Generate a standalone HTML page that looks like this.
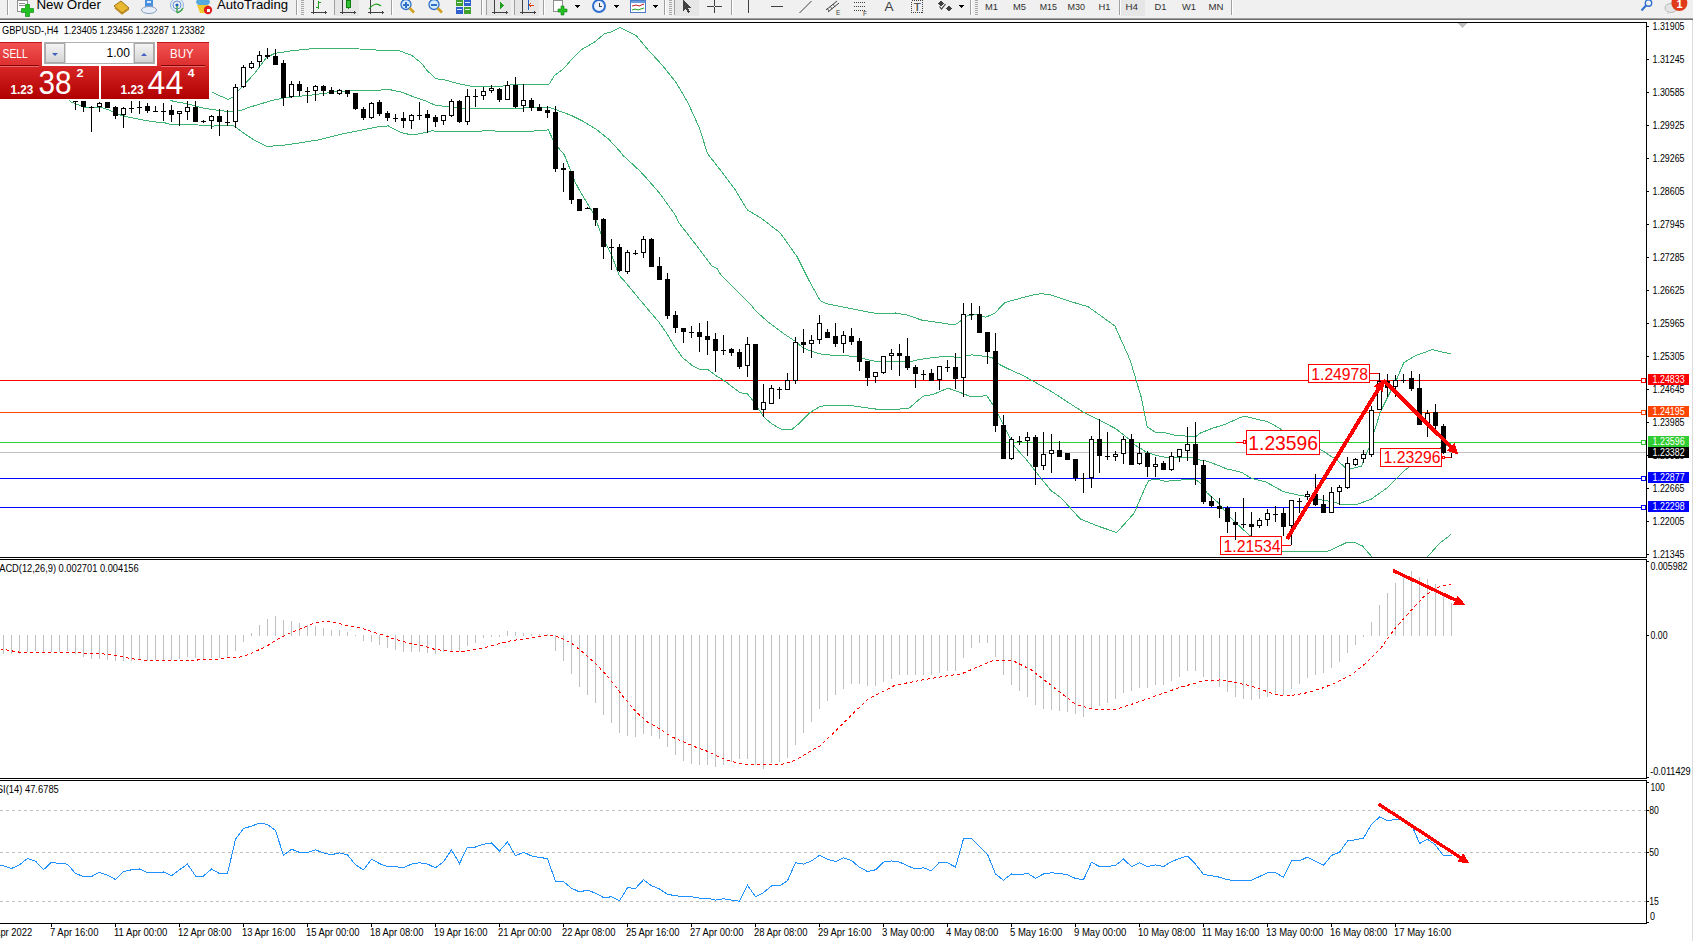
<!DOCTYPE html>
<html><head><meta charset="utf-8"><title>GBPUSD H4</title>
<style>
html,body{margin:0;padding:0;background:#fff;}
body{width:1693px;height:941px;position:relative;overflow:hidden;font-family:"Liberation Sans", sans-serif;}
</style></head><body>
<svg width="1693" height="941" style="position:absolute;left:0;top:0" shape-rendering="crispEdges"><defs><clipPath id="cMain"><rect x="0" y="23" width="1646" height="534"/></clipPath><clipPath id="cMacd"><rect x="0" y="560" width="1646" height="218"/></clipPath><clipPath id="cRsi"><rect x="0" y="781" width="1646" height="142"/></clipPath></defs><g clip-path="url(#cMain)"><rect x="0" y="380" width="1646" height="1" fill="#ff0000"/><rect x="0" y="412" width="1646" height="1" fill="#ff4500"/><rect x="0" y="442" width="1646" height="1" fill="#32cd32"/><rect x="0" y="452" width="1646" height="1" fill="#c0c0c0"/><rect x="0" y="478" width="1646" height="1" fill="#0000ff"/><rect x="0" y="507" width="1646" height="1" fill="#0000ff"/><polyline points="211.7,92.1 228.2,99.5 233.5,96.8 239.9,88.9 253.7,74.5 266.5,57.5 275.0,53.3 293.1,50.6 316.3,48.3 359.3,49.0 385.7,50.6 399.0,50.6 412.2,55.6 422.1,63.8 427.0,70.5 435.9,78.7 446.3,80.2 457.5,83.5 474.6,86.9 483.5,86.7 494.7,86.1 502.1,86.1 513.3,84.5 540.5,84.8 548.7,84.8 554.5,75.4 563.9,68.4 570.9,60.2 581.4,49.7 595.4,41.5 604.8,33.4 610.6,32.2 620.0,27.5 636.3,35.7 648.0,49.7 662.0,64.9 676.0,82.4 687.7,102.3 699.4,128.0 707.6,153.7 720.4,170.1 734.5,188.8 747.3,209.8 762.5,219.1 780.5,233.2 797.3,257.0 808.8,280.0 820.1,300.5 826.5,303.7 842.4,306.9 869.0,312.2 879.6,313.8 895.5,313.0 906.2,314.8 922.1,320.2 933.3,321.7 946.0,323.7 954.9,324.9 958.8,322.4 967.7,315.4 977.9,314.7 985.5,317.3 994.5,313.5 1004.7,302.6 1016.1,299.4 1030.2,295.6 1040.5,293.7 1049.8,294.5 1072.8,302.2 1088.1,306.7 1114.9,325.9 1130.2,360.3 1141.6,398.5 1147.2,426.8 1155.9,432.5 1166.4,433.0 1176.9,435.8 1196.0,436.3 1200.1,433.2 1212.3,428.3 1224.5,424.6 1243.9,416.0 1258.7,419.7 1265.9,421.1 1273.4,424.6 1283.2,430.7 1300.5,440.5 1319.9,449.1 1337.0,460.1 1345.5,467.9 1351.6,468.6 1361.4,466.2 1365.2,456.3 1369.9,445.8 1374.5,430.6 1380.4,411.9 1388.5,395.5 1396.7,379.2 1403.8,362.7 1415.5,355.7 1432.3,349.6 1444.5,352.5 1450.7,353.7" fill="none" stroke="#3cb371" stroke-width="1" shape-rendering="crispEdges"/><polyline points="170.5,100.5 176.1,101.9 186.8,103.7 202.7,108.0 216.5,110.1 231.4,111.9 239.9,110.7 250.5,106.9 261.2,103.7 271.8,100.5 285.5,97.5 309.7,95.3 339.4,91.3 365.9,90.3 390.5,89.8 401.7,92.1 412.8,96.5 424.0,100.3 435.1,105.1 442.6,106.1 449.3,106.2 457.5,108.1 464.9,108.1 472.3,108.8 510.5,108.8 519.6,108.1 542.6,107.5 549.0,107.2 556.6,110.0 570.6,115.1 583.4,121.5 596.1,129.2 608.9,139.4 620.5,152.1 623.1,155.5 639.7,170.8 647.3,179.1 660.1,193.8 675.5,215.4 678.8,222.6 700.3,250.5 711.8,265.8 717.0,268.5 720.7,274.7 743.7,297.7 751.3,305.3 755.3,310.5 768.1,322.0 783.4,333.5 794.9,341.1 802.5,347.5 811.4,351.3 820.5,353.9 831.8,355.2 855.1,356.3 863.6,358.7 874.3,361.1 904.0,361.1 911.5,361.3 916.8,360.0 930.5,357.9 946.0,356.2 958.8,357.5 971.5,354.9 984.3,356.2 991.9,357.5 999.6,364.5 1009.8,369.6 1022.5,375.3 1033.1,381.0 1052.4,392.1 1082.2,411.5 1099.4,420.1 1115.7,428.7 1129.1,439.2 1134.8,444.9 1147.2,452.6 1161.6,456.9 1171.2,457.4 1195.1,457.9 1200.1,460.1 1206.7,461.1 1217.2,465.0 1226.8,468.9 1241.6,472.3 1251.3,478.4 1266.1,482.1 1283.7,491.8 1301.5,495.7 1309.4,496.8 1317.4,499.2 1332.1,501.6 1341.9,504.6 1356.5,504.6 1371.2,499.2 1388.3,487.0 1405.4,469.9 1425.0,455.2 1442.3,447.0 1450.7,443.0" fill="none" stroke="#3cb371" stroke-width="1" shape-rendering="crispEdges"/><polyline points="69.0,100.0 70.5,101.8 86.5,107.9 103.0,107.9 113.5,111.8 120.5,115.0 131.5,117.8 152.5,121.7 165.5,123.0 171.9,125.0 182.5,124.5 194.2,124.5 202.7,125.5 213.3,126.1 224.0,125.0 234.5,126.1 242.0,131.9 253.7,139.9 266.7,146.5 286.5,144.9 317.9,140.0 340.0,134.4 357.0,131.0 378.2,126.8 388.4,125.9 392.7,128.5 401.7,132.6 411.3,134.9 420.3,133.7 432.2,130.8 442.6,131.9 457.5,131.9 470.8,131.7 483.5,130.9 504.3,131.1 519.6,131.7 543.9,130.5 548.3,129.8 552.8,139.4 559.2,148.9 564.3,154.7 569.4,167.4 574.6,181.0 579.6,190.5 593.8,214.2 601.4,234.6 611.6,255.0 619.3,275.5 623.9,280.5 640.5,300.5 653.2,315.5 658.3,321.3 665.9,332.1 673.6,344.9 682.5,357.6 692.7,365.9 700.3,369.7 707.5,369.2 715.8,375.5 726.0,381.9 732.4,387.0 740.0,392.7 747.7,394.0 754.1,402.3 764.3,417.6 771.9,424.0 782.1,429.7 792.3,429.1 800.0,422.7 810.2,412.5 820.5,406.1 847.1,405.1 877.7,409.3 908.3,408.9 917.9,400.5 923.2,396.2 933.3,394.4 947.9,388.1 958.8,391.9 971.5,397.0 986.8,395.7 994.4,407.0 1000.4,418.9 1007.8,433.8 1015.2,447.2 1027.1,460.5 1037.5,473.9 1050.9,490.5 1061.3,498.0 1080.4,519.1 1099.6,526.7 1116.8,532.5 1134.0,513.3 1139.6,500.5 1145.5,486.5 1149.2,480.3 1153.9,479.4 1159.7,479.9 1165.5,481.3 1182.5,479.9 1196.0,479.9 1201.8,484.2 1206.5,492.3 1217.8,502.4 1229.0,515.8 1240.2,526.9 1250.2,535.9 1265.5,545.5 1282.5,551.9 1325.5,551.9 1331.5,549.9 1347.5,542.0 1353.5,542.0 1362.5,546.0 1372.5,557.5 1380.5,575.5 1415.5,575.5 1427.5,556.7 1439.7,543.2 1450.7,534.7" fill="none" stroke="#3cb371" stroke-width="1" shape-rendering="crispEdges"/></g><rect x="1641.5" y="378.5" width="4" height="4" fill="#fff" stroke="#ff0000" stroke-width="1" shape-rendering="crispEdges"/><rect x="1641.5" y="410.5" width="4" height="4" fill="#fff" stroke="#ff4500" stroke-width="1" shape-rendering="crispEdges"/><rect x="1641.5" y="440.5" width="4" height="4" fill="#fff" stroke="#32cd32" stroke-width="1" shape-rendering="crispEdges"/><rect x="1641.5" y="476.5" width="4" height="4" fill="#fff" stroke="#0000ff" stroke-width="1" shape-rendering="crispEdges"/><rect x="1641.5" y="505.5" width="4" height="4" fill="#fff" stroke="#0000ff" stroke-width="1" shape-rendering="crispEdges"/><polygon points="1457.5,23 1467.5,23 1462.5,28.5" fill="#c0c0c0"/><g clip-path="url(#cMacd)"><rect x="3" y="635" width="1" height="19" fill="#c0c0c0"/><rect x="11" y="635" width="1" height="19" fill="#c0c0c0"/><rect x="19" y="635" width="1" height="19" fill="#c0c0c0"/><rect x="27" y="635" width="1" height="17" fill="#c0c0c0"/><rect x="35" y="635" width="1" height="16" fill="#c0c0c0"/><rect x="43" y="635" width="1" height="17" fill="#c0c0c0"/><rect x="51" y="635" width="1" height="17" fill="#c0c0c0"/><rect x="59" y="635" width="1" height="17" fill="#c0c0c0"/><rect x="67" y="635" width="1" height="16" fill="#c0c0c0"/><rect x="75" y="635" width="1" height="19" fill="#c0c0c0"/><rect x="83" y="635" width="1" height="22" fill="#c0c0c0"/><rect x="91" y="635" width="1" height="24" fill="#c0c0c0"/><rect x="99" y="635" width="1" height="24" fill="#c0c0c0"/><rect x="107" y="635" width="1" height="25" fill="#c0c0c0"/><rect x="115" y="635" width="1" height="26" fill="#c0c0c0"/><rect x="123" y="635" width="1" height="26" fill="#c0c0c0"/><rect x="131" y="635" width="1" height="26" fill="#c0c0c0"/><rect x="139" y="635" width="1" height="25" fill="#c0c0c0"/><rect x="147" y="635" width="1" height="26" fill="#c0c0c0"/><rect x="155" y="635" width="1" height="25" fill="#c0c0c0"/><rect x="163" y="635" width="1" height="25" fill="#c0c0c0"/><rect x="171" y="635" width="1" height="25" fill="#c0c0c0"/><rect x="179" y="635" width="1" height="24" fill="#c0c0c0"/><rect x="187" y="635" width="1" height="22" fill="#c0c0c0"/><rect x="195" y="635" width="1" height="23" fill="#c0c0c0"/><rect x="203" y="635" width="1" height="24" fill="#c0c0c0"/><rect x="211" y="635" width="1" height="23" fill="#c0c0c0"/><rect x="219" y="635" width="1" height="23" fill="#c0c0c0"/><rect x="227" y="635" width="1" height="23" fill="#c0c0c0"/><rect x="235" y="635" width="1" height="16" fill="#c0c0c0"/><rect x="243" y="635" width="1" height="7" fill="#c0c0c0"/><rect x="251" y="633" width="1" height="3" fill="#c0c0c0"/><rect x="259" y="625" width="1" height="11" fill="#c0c0c0"/><rect x="267" y="619" width="1" height="17" fill="#c0c0c0"/><rect x="275" y="616" width="1" height="20" fill="#c0c0c0"/><rect x="283" y="620" width="1" height="16" fill="#c0c0c0"/><rect x="291" y="621" width="1" height="15" fill="#c0c0c0"/><rect x="299" y="623" width="1" height="13" fill="#c0c0c0"/><rect x="307" y="625" width="1" height="11" fill="#c0c0c0"/><rect x="315" y="626" width="1" height="10" fill="#c0c0c0"/><rect x="323" y="628" width="1" height="8" fill="#c0c0c0"/><rect x="331" y="630" width="1" height="6" fill="#c0c0c0"/><rect x="339" y="630" width="1" height="6" fill="#c0c0c0"/><rect x="347" y="632" width="1" height="4" fill="#c0c0c0"/><rect x="355" y="635" width="1" height="1" fill="#c0c0c0"/><rect x="363" y="635" width="1" height="6" fill="#c0c0c0"/><rect x="371" y="635" width="1" height="7" fill="#c0c0c0"/><rect x="379" y="635" width="1" height="10" fill="#c0c0c0"/><rect x="387" y="635" width="1" height="13" fill="#c0c0c0"/><rect x="395" y="635" width="1" height="15" fill="#c0c0c0"/><rect x="403" y="635" width="1" height="17" fill="#c0c0c0"/><rect x="411" y="635" width="1" height="17" fill="#c0c0c0"/><rect x="419" y="635" width="1" height="17" fill="#c0c0c0"/><rect x="427" y="635" width="1" height="18" fill="#c0c0c0"/><rect x="435" y="635" width="1" height="19" fill="#c0c0c0"/><rect x="443" y="635" width="1" height="17" fill="#c0c0c0"/><rect x="451" y="635" width="1" height="16" fill="#c0c0c0"/><rect x="459" y="635" width="1" height="16" fill="#c0c0c0"/><rect x="467" y="635" width="1" height="11" fill="#c0c0c0"/><rect x="475" y="635" width="1" height="8" fill="#c0c0c0"/><rect x="483" y="635" width="1" height="3" fill="#c0c0c0"/><rect x="491" y="635" width="1" height="2" fill="#c0c0c0"/><rect x="499" y="635" width="1" height="2" fill="#c0c0c0"/><rect x="507" y="631" width="1" height="5" fill="#c0c0c0"/><rect x="515" y="632" width="1" height="4" fill="#c0c0c0"/><rect x="523" y="633" width="1" height="3" fill="#c0c0c0"/><rect x="531" y="634" width="1" height="2" fill="#c0c0c0"/><rect x="539" y="634" width="1" height="2" fill="#c0c0c0"/><rect x="547" y="634" width="1" height="2" fill="#c0c0c0"/><rect x="555" y="635" width="1" height="16" fill="#c0c0c0"/><rect x="563" y="635" width="1" height="26" fill="#c0c0c0"/><rect x="571" y="635" width="1" height="39" fill="#c0c0c0"/><rect x="579" y="635" width="1" height="52" fill="#c0c0c0"/><rect x="587" y="635" width="1" height="60" fill="#c0c0c0"/><rect x="595" y="635" width="1" height="68" fill="#c0c0c0"/><rect x="603" y="635" width="1" height="80" fill="#c0c0c0"/><rect x="611" y="635" width="1" height="88" fill="#c0c0c0"/><rect x="619" y="635" width="1" height="98" fill="#c0c0c0"/><rect x="627" y="635" width="1" height="101" fill="#c0c0c0"/><rect x="635" y="635" width="1" height="102" fill="#c0c0c0"/><rect x="643" y="635" width="1" height="99" fill="#c0c0c0"/><rect x="651" y="635" width="1" height="101" fill="#c0c0c0"/><rect x="659" y="635" width="1" height="104" fill="#c0c0c0"/><rect x="667" y="635" width="1" height="112" fill="#c0c0c0"/><rect x="675" y="635" width="1" height="120" fill="#c0c0c0"/><rect x="683" y="635" width="1" height="126" fill="#c0c0c0"/><rect x="691" y="635" width="1" height="129" fill="#c0c0c0"/><rect x="699" y="635" width="1" height="130" fill="#c0c0c0"/><rect x="707" y="635" width="1" height="130" fill="#c0c0c0"/><rect x="715" y="635" width="1" height="132" fill="#c0c0c0"/><rect x="723" y="635" width="1" height="130" fill="#c0c0c0"/><rect x="731" y="635" width="1" height="127" fill="#c0c0c0"/><rect x="739" y="635" width="1" height="124" fill="#c0c0c0"/><rect x="747" y="635" width="1" height="124" fill="#c0c0c0"/><rect x="755" y="635" width="1" height="130" fill="#c0c0c0"/><rect x="763" y="635" width="1" height="134" fill="#c0c0c0"/><rect x="771" y="635" width="1" height="128" fill="#c0c0c0"/><rect x="779" y="635" width="1" height="127" fill="#c0c0c0"/><rect x="787" y="635" width="1" height="123" fill="#c0c0c0"/><rect x="795" y="635" width="1" height="110" fill="#c0c0c0"/><rect x="803" y="635" width="1" height="98" fill="#c0c0c0"/><rect x="811" y="635" width="1" height="87" fill="#c0c0c0"/><rect x="819" y="635" width="1" height="74" fill="#c0c0c0"/><rect x="827" y="635" width="1" height="66" fill="#c0c0c0"/><rect x="835" y="635" width="1" height="60" fill="#c0c0c0"/><rect x="843" y="635" width="1" height="54" fill="#c0c0c0"/><rect x="851" y="635" width="1" height="49" fill="#c0c0c0"/><rect x="859" y="635" width="1" height="49" fill="#c0c0c0"/><rect x="867" y="635" width="1" height="51" fill="#c0c0c0"/><rect x="875" y="635" width="1" height="51" fill="#c0c0c0"/><rect x="883" y="635" width="1" height="47" fill="#c0c0c0"/><rect x="891" y="635" width="1" height="44" fill="#c0c0c0"/><rect x="899" y="635" width="1" height="40" fill="#c0c0c0"/><rect x="907" y="635" width="1" height="40" fill="#c0c0c0"/><rect x="915" y="635" width="1" height="40" fill="#c0c0c0"/><rect x="923" y="635" width="1" height="40" fill="#c0c0c0"/><rect x="931" y="635" width="1" height="40" fill="#c0c0c0"/><rect x="939" y="635" width="1" height="38" fill="#c0c0c0"/><rect x="947" y="635" width="1" height="36" fill="#c0c0c0"/><rect x="955" y="635" width="1" height="36" fill="#c0c0c0"/><rect x="963" y="635" width="1" height="23" fill="#c0c0c0"/><rect x="971" y="635" width="1" height="13" fill="#c0c0c0"/><rect x="979" y="635" width="1" height="8" fill="#c0c0c0"/><rect x="987" y="635" width="1" height="8" fill="#c0c0c0"/><rect x="995" y="635" width="1" height="22" fill="#c0c0c0"/><rect x="1003" y="635" width="1" height="40" fill="#c0c0c0"/><rect x="1011" y="635" width="1" height="50" fill="#c0c0c0"/><rect x="1019" y="635" width="1" height="56" fill="#c0c0c0"/><rect x="1027" y="635" width="1" height="62" fill="#c0c0c0"/><rect x="1035" y="635" width="1" height="70" fill="#c0c0c0"/><rect x="1043" y="635" width="1" height="74" fill="#c0c0c0"/><rect x="1051" y="635" width="1" height="75" fill="#c0c0c0"/><rect x="1059" y="635" width="1" height="76" fill="#c0c0c0"/><rect x="1067" y="635" width="1" height="77" fill="#c0c0c0"/><rect x="1075" y="635" width="1" height="79" fill="#c0c0c0"/><rect x="1083" y="635" width="1" height="82" fill="#c0c0c0"/><rect x="1091" y="635" width="1" height="74" fill="#c0c0c0"/><rect x="1099" y="635" width="1" height="71" fill="#c0c0c0"/><rect x="1107" y="635" width="1" height="68" fill="#c0c0c0"/><rect x="1115" y="635" width="1" height="64" fill="#c0c0c0"/><rect x="1123" y="635" width="1" height="58" fill="#c0c0c0"/><rect x="1131" y="635" width="1" height="56" fill="#c0c0c0"/><rect x="1139" y="635" width="1" height="53" fill="#c0c0c0"/><rect x="1147" y="635" width="1" height="53" fill="#c0c0c0"/><rect x="1155" y="635" width="1" height="50" fill="#c0c0c0"/><rect x="1163" y="635" width="1" height="50" fill="#c0c0c0"/><rect x="1171" y="635" width="1" height="46" fill="#c0c0c0"/><rect x="1179" y="635" width="1" height="42" fill="#c0c0c0"/><rect x="1187" y="635" width="1" height="36" fill="#c0c0c0"/><rect x="1195" y="635" width="1" height="36" fill="#c0c0c0"/><rect x="1203" y="635" width="1" height="42" fill="#c0c0c0"/><rect x="1211" y="635" width="1" height="47" fill="#c0c0c0"/><rect x="1219" y="635" width="1" height="52" fill="#c0c0c0"/><rect x="1227" y="635" width="1" height="57" fill="#c0c0c0"/><rect x="1235" y="635" width="1" height="62" fill="#c0c0c0"/><rect x="1243" y="635" width="1" height="64" fill="#c0c0c0"/><rect x="1251" y="635" width="1" height="65" fill="#c0c0c0"/><rect x="1259" y="635" width="1" height="64" fill="#c0c0c0"/><rect x="1267" y="635" width="1" height="62" fill="#c0c0c0"/><rect x="1275" y="635" width="1" height="60" fill="#c0c0c0"/><rect x="1283" y="635" width="1" height="60" fill="#c0c0c0"/><rect x="1291" y="635" width="1" height="54" fill="#c0c0c0"/><rect x="1299" y="635" width="1" height="49" fill="#c0c0c0"/><rect x="1307" y="635" width="1" height="43" fill="#c0c0c0"/><rect x="1315" y="635" width="1" height="40" fill="#c0c0c0"/><rect x="1323" y="635" width="1" height="38" fill="#c0c0c0"/><rect x="1331" y="635" width="1" height="33" fill="#c0c0c0"/><rect x="1339" y="635" width="1" height="27" fill="#c0c0c0"/><rect x="1347" y="635" width="1" height="18" fill="#c0c0c0"/><rect x="1355" y="635" width="1" height="10" fill="#c0c0c0"/><rect x="1363" y="635" width="1" height="2" fill="#c0c0c0"/><rect x="1371" y="622" width="1" height="14" fill="#c0c0c0"/><rect x="1379" y="605" width="1" height="31" fill="#c0c0c0"/><rect x="1387" y="593" width="1" height="43" fill="#c0c0c0"/><rect x="1395" y="583" width="1" height="53" fill="#c0c0c0"/><rect x="1403" y="577" width="1" height="59" fill="#c0c0c0"/><rect x="1411" y="571" width="1" height="65" fill="#c0c0c0"/><rect x="1419" y="577" width="1" height="59" fill="#c0c0c0"/><rect x="1427" y="579" width="1" height="57" fill="#c0c0c0"/><rect x="1435" y="584" width="1" height="52" fill="#c0c0c0"/><rect x="1443" y="595" width="1" height="41" fill="#c0c0c0"/><rect x="1451" y="603" width="1" height="33" fill="#c0c0c0"/><polyline points="0.5,648.9 6.5,649.9 12.5,651.0 18.5,652.0 24.5,653.0 60.5,652.8 80.5,652.9 90.5,653.9 103.5,653.9 110.5,654.9 117.5,655.7 123.5,656.8 128.5,658.1 133.5,659.0 140.5,660.0 155.5,660.9 180.5,660.9 190.5,660.0 197.5,660.0 200.5,659.0 220.5,659.0 225.5,657.9 240.5,657.0 247.5,654.9 253.5,652.3 259.5,649.5 265.5,646.8 270.5,643.9 276.5,639.8 283.5,636.4 289.5,633.3 296.5,630.2 302.5,628.0 309.5,624.8 315.5,623.1 322.5,621.9 330.5,621.9 335.5,622.8 341.5,624.1 347.5,625.5 353.5,626.5 360.5,628.1 367.5,630.1 373.5,632.1 380.5,634.3 386.5,636.2 392.5,638.4 399.5,640.4 405.5,642.2 412.5,644.0 419.5,644.9 435.5,649.6 460.1,652.1 484.9,647.6 509.7,641.0 534.5,637.2 549.5,635.2 559.3,637.2 571.8,643.4 584.2,653.3 596.5,664.5 609.0,677.9 621.4,694.5 633.8,709.5 646.2,721.3 658.5,728.1 671.0,736.5 683.4,741.8 695.8,747.1 708.2,751.6 720.6,758.0 733.0,761.8 745.4,764.2 757.8,764.7 782.6,764.2 795.0,760.5 807.4,752.8 820.5,745.6 845.3,721.3 867.6,699.2 894.9,685.3 919.7,680.4 944.5,676.2 961.9,673.7 979.3,666.2 994.2,660.0 1011.5,660.0 1031.4,670.0 1053.7,687.3 1076.0,704.7 1093.4,709.2 1115.7,709.2 1130.6,704.7 1155.4,696.0 1180.2,687.3 1205.0,680.4 1222.4,679.9 1233.5,682.1 1250.5,685.8 1265.5,691.0 1275.5,694.7 1290.5,695.7 1305.5,693.0 1320.5,688.8 1335.5,682.8 1350.5,675.4 1365.5,663.4 1380.5,648.5 1395.5,627.7 1410.5,611.1 1425.5,594.8 1440.5,586.3 1450.5,584.1" fill="none" stroke="#ff0000" stroke-width="1" stroke-dasharray="3 3" shape-rendering="crispEdges"/></g><g clip-path="url(#cRsi)"><line x1="0" y1="810.5" x2="1646" y2="810.5" stroke="#c0c0c0" stroke-width="1" stroke-dasharray="3 3" shape-rendering="crispEdges"/><line x1="0" y1="852.5" x2="1646" y2="852.5" stroke="#c0c0c0" stroke-width="1" stroke-dasharray="3 3" shape-rendering="crispEdges"/><line x1="0" y1="901.5" x2="1646" y2="901.5" stroke="#c0c0c0" stroke-width="1" stroke-dasharray="3 3" shape-rendering="crispEdges"/><polyline points="0.0,865.1 3.5,865.8 11.5,868.5 19.5,864.8 27.5,858.4 35.5,861.1 43.5,869.8 51.5,862.1 59.5,863.6 67.5,864.1 75.5,873.5 83.5,876.5 91.5,876.5 99.5,872.3 107.5,875.3 115.5,879.5 123.5,871.5 131.5,869.8 139.5,869.0 147.5,872.8 155.5,872.8 163.5,872.0 171.5,875.7 179.5,869.8 187.5,864.1 195.5,876.0 203.5,876.0 211.5,869.0 219.5,873.5 227.5,873.5 235.5,839.3 243.5,828.6 251.5,826.1 259.5,823.2 267.5,824.4 275.5,830.6 283.5,855.4 291.5,849.2 299.5,852.4 307.5,852.4 315.5,849.9 323.5,852.9 331.5,854.7 339.5,852.9 347.5,854.9 355.5,864.8 363.5,869.8 371.5,859.1 379.5,863.6 387.5,866.6 395.5,866.6 403.5,867.8 411.5,864.1 419.5,862.8 427.5,864.1 435.5,867.8 443.5,861.6 451.5,849.9 459.5,863.6 467.5,847.0 475.5,847.0 483.5,844.2 491.5,843.0 499.5,850.9 507.5,842.0 515.5,855.9 523.5,852.2 531.5,855.9 539.5,857.4 547.5,858.6 555.5,881.5 563.5,881.5 571.5,888.2 579.5,891.9 587.5,890.1 595.5,893.1 603.5,897.6 611.5,896.8 619.5,900.8 627.5,887.7 635.5,888.4 643.5,879.7 651.5,885.7 659.5,888.9 667.5,894.4 675.5,895.6 683.5,896.8 691.5,896.8 699.5,898.1 707.5,898.1 715.5,900.1 723.5,898.8 731.5,900.1 739.5,901.3 747.5,885.2 755.5,896.8 763.5,892.6 771.5,885.9 779.5,885.9 787.5,880.7 795.5,862.8 803.5,864.1 811.5,860.9 819.5,855.4 827.5,859.1 835.5,861.6 843.5,857.9 851.5,860.4 859.5,867.3 867.5,871.5 875.5,869.8 883.5,862.1 891.5,860.9 899.5,862.1 907.5,865.8 915.5,869.0 923.5,867.8 931.5,870.8 939.5,862.1 947.5,862.8 955.5,867.1 963.5,838.8 971.5,838.8 979.5,846.7 987.5,854.2 995.5,874.0 1003.5,880.2 1011.5,874.0 1019.5,874.8 1027.5,873.3 1035.5,878.2 1043.5,874.0 1051.5,872.8 1059.5,873.5 1067.5,874.8 1075.5,878.5 1083.5,879.7 1091.5,862.3 1099.5,866.6 1107.5,866.6 1115.5,865.3 1123.5,859.1 1131.5,866.6 1139.5,862.8 1147.5,866.6 1155.5,864.8 1163.5,866.6 1171.5,861.6 1179.5,858.4 1187.5,856.1 1195.5,864.1 1203.5,874.5 1211.5,875.7 1219.5,877.2 1227.5,879.7 1235.5,880.7 1243.5,880.2 1251.5,880.2 1259.5,876.5 1267.5,872.8 1275.5,872.8 1283.5,877.2 1291.5,860.9 1299.5,860.9 1307.5,857.1 1315.5,861.1 1323.5,865.3 1331.5,855.4 1339.5,852.2 1347.5,841.0 1355.5,839.8 1363.5,838.0 1371.5,824.4 1379.5,817.0 1387.5,820.7 1395.5,819.4 1403.5,819.4 1411.5,824.4 1419.5,843.5 1427.5,839.3 1435.5,845.0 1443.5,855.9 1451.5,855.9" fill="none" stroke="#1e90ff" stroke-width="1" shape-rendering="crispEdges"/></g><rect x="0" y="22" width="1647" height="1" fill="#000"/><rect x="1646" y="22" width="1" height="536" fill="#000"/><rect x="0" y="557" width="1647" height="1" fill="#000"/><rect x="0" y="559" width="1647" height="1" fill="#000"/><rect x="1646" y="559" width="1" height="220" fill="#000"/><rect x="0" y="778" width="1647" height="1" fill="#000"/><rect x="0" y="780" width="1647" height="1" fill="#000"/><rect x="1646" y="780" width="1" height="144" fill="#000"/><rect x="0" y="923" width="1647" height="1" fill="#000"/><rect x="1647" y="26" width="2" height="1" fill="#000"/><text x="1652.5" y="30" font-size="10" fill="#000" text-anchor="start" font-weight="normal" textLength="32" lengthAdjust="spacingAndGlyphs" style="font-family:"Liberation Sans", sans-serif;" xml:space="preserve">1.31905</text><rect x="1647" y="59" width="2" height="1" fill="#000"/><text x="1652.5" y="63" font-size="10" fill="#000" text-anchor="start" font-weight="normal" textLength="32" lengthAdjust="spacingAndGlyphs" style="font-family:"Liberation Sans", sans-serif;" xml:space="preserve">1.31245</text><rect x="1647" y="92" width="2" height="1" fill="#000"/><text x="1652.5" y="96" font-size="10" fill="#000" text-anchor="start" font-weight="normal" textLength="32" lengthAdjust="spacingAndGlyphs" style="font-family:"Liberation Sans", sans-serif;" xml:space="preserve">1.30585</text><rect x="1647" y="125" width="2" height="1" fill="#000"/><text x="1652.5" y="129" font-size="10" fill="#000" text-anchor="start" font-weight="normal" textLength="32" lengthAdjust="spacingAndGlyphs" style="font-family:"Liberation Sans", sans-serif;" xml:space="preserve">1.29925</text><rect x="1647" y="158" width="2" height="1" fill="#000"/><text x="1652.5" y="162" font-size="10" fill="#000" text-anchor="start" font-weight="normal" textLength="32" lengthAdjust="spacingAndGlyphs" style="font-family:"Liberation Sans", sans-serif;" xml:space="preserve">1.29265</text><rect x="1647" y="191" width="2" height="1" fill="#000"/><text x="1652.5" y="195" font-size="10" fill="#000" text-anchor="start" font-weight="normal" textLength="32" lengthAdjust="spacingAndGlyphs" style="font-family:"Liberation Sans", sans-serif;" xml:space="preserve">1.28605</text><rect x="1647" y="224" width="2" height="1" fill="#000"/><text x="1652.5" y="228" font-size="10" fill="#000" text-anchor="start" font-weight="normal" textLength="32" lengthAdjust="spacingAndGlyphs" style="font-family:"Liberation Sans", sans-serif;" xml:space="preserve">1.27945</text><rect x="1647" y="257" width="2" height="1" fill="#000"/><text x="1652.5" y="261" font-size="10" fill="#000" text-anchor="start" font-weight="normal" textLength="32" lengthAdjust="spacingAndGlyphs" style="font-family:"Liberation Sans", sans-serif;" xml:space="preserve">1.27285</text><rect x="1647" y="290" width="2" height="1" fill="#000"/><text x="1652.5" y="294" font-size="10" fill="#000" text-anchor="start" font-weight="normal" textLength="32" lengthAdjust="spacingAndGlyphs" style="font-family:"Liberation Sans", sans-serif;" xml:space="preserve">1.26625</text><rect x="1647" y="323" width="2" height="1" fill="#000"/><text x="1652.5" y="327" font-size="10" fill="#000" text-anchor="start" font-weight="normal" textLength="32" lengthAdjust="spacingAndGlyphs" style="font-family:"Liberation Sans", sans-serif;" xml:space="preserve">1.25965</text><rect x="1647" y="356" width="2" height="1" fill="#000"/><text x="1652.5" y="360" font-size="10" fill="#000" text-anchor="start" font-weight="normal" textLength="32" lengthAdjust="spacingAndGlyphs" style="font-family:"Liberation Sans", sans-serif;" xml:space="preserve">1.25305</text><rect x="1647" y="389" width="2" height="1" fill="#000"/><text x="1652.5" y="393" font-size="10" fill="#000" text-anchor="start" font-weight="normal" textLength="32" lengthAdjust="spacingAndGlyphs" style="font-family:"Liberation Sans", sans-serif;" xml:space="preserve">1.24645</text><rect x="1647" y="422" width="2" height="1" fill="#000"/><text x="1652.5" y="426" font-size="10" fill="#000" text-anchor="start" font-weight="normal" textLength="32" lengthAdjust="spacingAndGlyphs" style="font-family:"Liberation Sans", sans-serif;" xml:space="preserve">1.23985</text><rect x="1647" y="455" width="2" height="1" fill="#000"/><text x="1652.5" y="459" font-size="10" fill="#000" text-anchor="start" font-weight="normal" textLength="32" lengthAdjust="spacingAndGlyphs" style="font-family:"Liberation Sans", sans-serif;" xml:space="preserve">1.23325</text><rect x="1647" y="488" width="2" height="1" fill="#000"/><text x="1652.5" y="492" font-size="10" fill="#000" text-anchor="start" font-weight="normal" textLength="32" lengthAdjust="spacingAndGlyphs" style="font-family:"Liberation Sans", sans-serif;" xml:space="preserve">1.22665</text><rect x="1647" y="521" width="2" height="1" fill="#000"/><text x="1652.5" y="525" font-size="10" fill="#000" text-anchor="start" font-weight="normal" textLength="32" lengthAdjust="spacingAndGlyphs" style="font-family:"Liberation Sans", sans-serif;" xml:space="preserve">1.22005</text><rect x="1647" y="554" width="2" height="1" fill="#000"/><text x="1652.5" y="558" font-size="10" fill="#000" text-anchor="start" font-weight="normal" textLength="32" lengthAdjust="spacingAndGlyphs" style="font-family:"Liberation Sans", sans-serif;" xml:space="preserve">1.21345</text><rect x="1647" y="561" width="2" height="1" fill="#000"/><text x="1650.5" y="570" font-size="10" fill="#000" text-anchor="start" font-weight="normal" textLength="37" lengthAdjust="spacingAndGlyphs" style="font-family:"Liberation Sans", sans-serif;" xml:space="preserve">0.005982</text><rect x="1647" y="635" width="2" height="1" fill="#000"/><text x="1650.5" y="639" font-size="10" fill="#000" text-anchor="start" font-weight="normal" textLength="17" lengthAdjust="spacingAndGlyphs" style="font-family:"Liberation Sans", sans-serif;" xml:space="preserve">0.00</text><rect x="1647" y="777" width="2" height="1" fill="#000"/><text x="1650.2" y="775" font-size="10" fill="#000" text-anchor="start" font-weight="normal" textLength="40.5" lengthAdjust="spacingAndGlyphs" style="font-family:"Liberation Sans", sans-serif;" xml:space="preserve">-0.011429</text><rect x="1647" y="782" width="2" height="1" fill="#000"/><text x="1650.6" y="791" font-size="10" fill="#000" text-anchor="start" font-weight="normal" textLength="14.2" lengthAdjust="spacingAndGlyphs" style="font-family:"Liberation Sans", sans-serif;" xml:space="preserve">100</text><rect x="1647" y="810" width="2" height="1" fill="#000"/><text x="1649.3" y="814" font-size="10" fill="#000" text-anchor="start" font-weight="normal" textLength="9.6" lengthAdjust="spacingAndGlyphs" style="font-family:"Liberation Sans", sans-serif;" xml:space="preserve">80</text><rect x="1647" y="852" width="2" height="1" fill="#000"/><text x="1649.3" y="856" font-size="10" fill="#000" text-anchor="start" font-weight="normal" textLength="9.6" lengthAdjust="spacingAndGlyphs" style="font-family:"Liberation Sans", sans-serif;" xml:space="preserve">50</text><rect x="1647" y="901" width="2" height="1" fill="#000"/><text x="1649.3" y="905" font-size="10" fill="#000" text-anchor="start" font-weight="normal" textLength="9.6" lengthAdjust="spacingAndGlyphs" style="font-family:"Liberation Sans", sans-serif;" xml:space="preserve">15</text><rect x="1647" y="922" width="2" height="1" fill="#000"/><text x="1650" y="920" font-size="10" fill="#000" text-anchor="start" font-weight="normal" textLength="5" lengthAdjust="spacingAndGlyphs" style="font-family:"Liberation Sans", sans-serif;" xml:space="preserve">0</text><rect x="1648" y="374" width="41" height="11" fill="#ff0000"/><text x="1652.6" y="383" font-size="10" fill="#fff" text-anchor="start" font-weight="normal" textLength="32" lengthAdjust="spacingAndGlyphs" style="font-family:"Liberation Sans", sans-serif;" xml:space="preserve">1.24833</text><rect x="1648" y="406" width="41" height="11" fill="#ff4500"/><text x="1652.6" y="415" font-size="10" fill="#fff" text-anchor="start" font-weight="normal" textLength="32" lengthAdjust="spacingAndGlyphs" style="font-family:"Liberation Sans", sans-serif;" xml:space="preserve">1.24195</text><rect x="1648" y="436" width="41" height="11" fill="#32cd32"/><text x="1652.6" y="445" font-size="10" fill="#fff" text-anchor="start" font-weight="normal" textLength="32" lengthAdjust="spacingAndGlyphs" style="font-family:"Liberation Sans", sans-serif;" xml:space="preserve">1.23596</text><rect x="1648" y="447" width="41" height="11" fill="#000000"/><text x="1652.6" y="456" font-size="10" fill="#fff" text-anchor="start" font-weight="normal" textLength="32" lengthAdjust="spacingAndGlyphs" style="font-family:"Liberation Sans", sans-serif;" xml:space="preserve">1.23382</text><rect x="1648" y="472" width="41" height="11" fill="#0000ff"/><text x="1652.6" y="481" font-size="10" fill="#fff" text-anchor="start" font-weight="normal" textLength="32" lengthAdjust="spacingAndGlyphs" style="font-family:"Liberation Sans", sans-serif;" xml:space="preserve">1.22877</text><rect x="1648" y="501" width="41" height="11" fill="#0000ff"/><text x="1652.6" y="510" font-size="10" fill="#fff" text-anchor="start" font-weight="normal" textLength="32" lengthAdjust="spacingAndGlyphs" style="font-family:"Liberation Sans", sans-serif;" xml:space="preserve">1.22298</text><rect x="51" y="924" width="1" height="3" fill="#000"/><text x="50" y="936" font-size="10" fill="#000" text-anchor="start" font-weight="normal" textLength="48.4" lengthAdjust="spacingAndGlyphs" style="font-family:"Liberation Sans", sans-serif;" xml:space="preserve">7 Apr 16:00</text><rect x="115" y="924" width="1" height="3" fill="#000"/><text x="114" y="936" font-size="10" fill="#000" text-anchor="start" font-weight="normal" textLength="53.4" lengthAdjust="spacingAndGlyphs" style="font-family:"Liberation Sans", sans-serif;" xml:space="preserve">11 Apr 00:00</text><rect x="179" y="924" width="1" height="3" fill="#000"/><text x="178" y="936" font-size="10" fill="#000" text-anchor="start" font-weight="normal" textLength="53.4" lengthAdjust="spacingAndGlyphs" style="font-family:"Liberation Sans", sans-serif;" xml:space="preserve">12 Apr 08:00</text><rect x="243" y="924" width="1" height="3" fill="#000"/><text x="242" y="936" font-size="10" fill="#000" text-anchor="start" font-weight="normal" textLength="53.4" lengthAdjust="spacingAndGlyphs" style="font-family:"Liberation Sans", sans-serif;" xml:space="preserve">13 Apr 16:00</text><rect x="307" y="924" width="1" height="3" fill="#000"/><text x="306" y="936" font-size="10" fill="#000" text-anchor="start" font-weight="normal" textLength="53.4" lengthAdjust="spacingAndGlyphs" style="font-family:"Liberation Sans", sans-serif;" xml:space="preserve">15 Apr 00:00</text><rect x="371" y="924" width="1" height="3" fill="#000"/><text x="370" y="936" font-size="10" fill="#000" text-anchor="start" font-weight="normal" textLength="53.4" lengthAdjust="spacingAndGlyphs" style="font-family:"Liberation Sans", sans-serif;" xml:space="preserve">18 Apr 08:00</text><rect x="435" y="924" width="1" height="3" fill="#000"/><text x="434" y="936" font-size="10" fill="#000" text-anchor="start" font-weight="normal" textLength="53.4" lengthAdjust="spacingAndGlyphs" style="font-family:"Liberation Sans", sans-serif;" xml:space="preserve">19 Apr 16:00</text><rect x="499" y="924" width="1" height="3" fill="#000"/><text x="498" y="936" font-size="10" fill="#000" text-anchor="start" font-weight="normal" textLength="53.4" lengthAdjust="spacingAndGlyphs" style="font-family:"Liberation Sans", sans-serif;" xml:space="preserve">21 Apr 00:00</text><rect x="563" y="924" width="1" height="3" fill="#000"/><text x="562" y="936" font-size="10" fill="#000" text-anchor="start" font-weight="normal" textLength="53.4" lengthAdjust="spacingAndGlyphs" style="font-family:"Liberation Sans", sans-serif;" xml:space="preserve">22 Apr 08:00</text><rect x="627" y="924" width="1" height="3" fill="#000"/><text x="626" y="936" font-size="10" fill="#000" text-anchor="start" font-weight="normal" textLength="53.4" lengthAdjust="spacingAndGlyphs" style="font-family:"Liberation Sans", sans-serif;" xml:space="preserve">25 Apr 16:00</text><rect x="691" y="924" width="1" height="3" fill="#000"/><text x="690" y="936" font-size="10" fill="#000" text-anchor="start" font-weight="normal" textLength="53.4" lengthAdjust="spacingAndGlyphs" style="font-family:"Liberation Sans", sans-serif;" xml:space="preserve">27 Apr 00:00</text><rect x="755" y="924" width="1" height="3" fill="#000"/><text x="754" y="936" font-size="10" fill="#000" text-anchor="start" font-weight="normal" textLength="53.4" lengthAdjust="spacingAndGlyphs" style="font-family:"Liberation Sans", sans-serif;" xml:space="preserve">28 Apr 08:00</text><rect x="819" y="924" width="1" height="3" fill="#000"/><text x="818" y="936" font-size="10" fill="#000" text-anchor="start" font-weight="normal" textLength="53.4" lengthAdjust="spacingAndGlyphs" style="font-family:"Liberation Sans", sans-serif;" xml:space="preserve">29 Apr 16:00</text><rect x="883" y="924" width="1" height="3" fill="#000"/><text x="882" y="936" font-size="10" fill="#000" text-anchor="start" font-weight="normal" textLength="52.4" lengthAdjust="spacingAndGlyphs" style="font-family:"Liberation Sans", sans-serif;" xml:space="preserve">3 May 00:00</text><rect x="947" y="924" width="1" height="3" fill="#000"/><text x="946" y="936" font-size="10" fill="#000" text-anchor="start" font-weight="normal" textLength="52.4" lengthAdjust="spacingAndGlyphs" style="font-family:"Liberation Sans", sans-serif;" xml:space="preserve">4 May 08:00</text><rect x="1011" y="924" width="1" height="3" fill="#000"/><text x="1010" y="936" font-size="10" fill="#000" text-anchor="start" font-weight="normal" textLength="52.4" lengthAdjust="spacingAndGlyphs" style="font-family:"Liberation Sans", sans-serif;" xml:space="preserve">5 May 16:00</text><rect x="1075" y="924" width="1" height="3" fill="#000"/><text x="1074" y="936" font-size="10" fill="#000" text-anchor="start" font-weight="normal" textLength="52.4" lengthAdjust="spacingAndGlyphs" style="font-family:"Liberation Sans", sans-serif;" xml:space="preserve">9 May 00:00</text><rect x="1139" y="924" width="1" height="3" fill="#000"/><text x="1138" y="936" font-size="10" fill="#000" text-anchor="start" font-weight="normal" textLength="57.4" lengthAdjust="spacingAndGlyphs" style="font-family:"Liberation Sans", sans-serif;" xml:space="preserve">10 May 08:00</text><rect x="1203" y="924" width="1" height="3" fill="#000"/><text x="1202" y="936" font-size="10" fill="#000" text-anchor="start" font-weight="normal" textLength="57.4" lengthAdjust="spacingAndGlyphs" style="font-family:"Liberation Sans", sans-serif;" xml:space="preserve">11 May 16:00</text><rect x="1267" y="924" width="1" height="3" fill="#000"/><text x="1266" y="936" font-size="10" fill="#000" text-anchor="start" font-weight="normal" textLength="57.4" lengthAdjust="spacingAndGlyphs" style="font-family:"Liberation Sans", sans-serif;" xml:space="preserve">13 May 00:00</text><rect x="1331" y="924" width="1" height="3" fill="#000"/><text x="1330" y="936" font-size="10" fill="#000" text-anchor="start" font-weight="normal" textLength="57.4" lengthAdjust="spacingAndGlyphs" style="font-family:"Liberation Sans", sans-serif;" xml:space="preserve">16 May 08:00</text><rect x="1395" y="924" width="1" height="3" fill="#000"/><text x="1394" y="936" font-size="10" fill="#000" text-anchor="start" font-weight="normal" textLength="57.4" lengthAdjust="spacingAndGlyphs" style="font-family:"Liberation Sans", sans-serif;" xml:space="preserve">17 May 16:00</text><text x="-13.2" y="936" font-size="10" fill="#000" text-anchor="start" font-weight="normal" textLength="45.4" lengthAdjust="spacingAndGlyphs" style="font-family:"Liberation Sans", sans-serif;" xml:space="preserve">6 Apr 2022</text><text x="2" y="34" font-size="10" fill="#000" text-anchor="start" font-weight="normal" textLength="203" lengthAdjust="spacingAndGlyphs" style="font-family:"Liberation Sans", sans-serif;" xml:space="preserve">GBPUSD-,H4  1.23405 1.23456 1.23287 1.23382</text><text x="-0.8" y="572" font-size="10" fill="#000" text-anchor="start" font-weight="normal" textLength="139.5" lengthAdjust="spacingAndGlyphs" style="font-family:"Liberation Sans", sans-serif;" xml:space="preserve">ACD(12,26,9) 0.002701 0.004156</text><text x="-3.2" y="793" font-size="10" fill="#000" text-anchor="start" font-weight="normal" textLength="62" lengthAdjust="spacingAndGlyphs" style="font-family:"Liberation Sans", sans-serif;" xml:space="preserve">SI(14) 47.6785</text><rect x="1370" y="373" width="9" height="1" fill="#ff0000"/><rect x="1308.5" y="364.5" width="61" height="18" fill="#fff" stroke="#ff0000" stroke-width="1" shape-rendering="crispEdges"/><text x="1311.3" y="380" font-size="16" fill="#ff0000" text-anchor="start" font-weight="normal" textLength="56.7" lengthAdjust="spacingAndGlyphs" style="font-family:"Liberation Sans", sans-serif;" xml:space="preserve">1.24978</text><rect x="1236" y="442" width="8" height="1" fill="#ff0000"/><rect x="1243.5" y="440.5" width="2" height="3" fill="#fff" stroke="#ff0000" stroke-width="1" shape-rendering="crispEdges"/><rect x="1246.5" y="430.5" width="73" height="24" fill="#fff" stroke="#ff0000" stroke-width="1" shape-rendering="crispEdges"/><text x="1248.3" y="450.3" font-size="21" fill="#ff0000" text-anchor="start" font-weight="normal" textLength="69.7" lengthAdjust="spacingAndGlyphs" style="font-family:"Liberation Sans", sans-serif;" xml:space="preserve">1.23596</text><rect x="1445" y="457" width="6" height="1" fill="#ff0000"/><rect x="1442.5" y="456.5" width="2" height="2" fill="#fff" stroke="#ff0000" stroke-width="1" shape-rendering="crispEdges"/><rect x="1380.5" y="448.5" width="61" height="18" fill="#fff" stroke="#ff0000" stroke-width="1" shape-rendering="crispEdges"/><text x="1383.5" y="463.4" font-size="16" fill="#ff0000" text-anchor="start" font-weight="normal" textLength="57" lengthAdjust="spacingAndGlyphs" style="font-family:"Liberation Sans", sans-serif;" xml:space="preserve">1.23296</text><rect x="1282" y="545" width="9" height="1" fill="#ff0000"/><rect x="1220.5" y="536.5" width="61" height="18" fill="#fff" stroke="#ff0000" stroke-width="1" shape-rendering="crispEdges"/><text x="1223.5" y="551.5" font-size="16" fill="#ff0000" text-anchor="start" font-weight="normal" textLength="57" lengthAdjust="spacingAndGlyphs" style="font-family:"Liberation Sans", sans-serif;" xml:space="preserve">1.21534</text><g clip-path="url(#cMain)"><rect x="75" y="101" width="1" height="9" fill="#000"/><rect x="73" y="101" width="5" height="1" fill="#000"/><rect x="83" y="101" width="1" height="11" fill="#000"/><rect x="81" y="101" width="5" height="6" fill="#000"/><rect x="91" y="106" width="1" height="26" fill="#000"/><rect x="89" y="107" width="5" height="1" fill="#000"/><rect x="99" y="102" width="1" height="10" fill="#000"/><rect x="97" y="103" width="5" height="4" fill="#000"/><rect x="98" y="104" width="3" height="2" fill="#fff"/><rect x="107" y="102" width="1" height="6" fill="#000"/><rect x="105" y="102" width="5" height="6" fill="#000"/><rect x="115" y="106" width="1" height="13" fill="#000"/><rect x="113" y="107" width="5" height="9" fill="#000"/><rect x="123" y="107" width="1" height="21" fill="#000"/><rect x="121" y="108" width="5" height="7" fill="#000"/><rect x="122" y="109" width="3" height="5" fill="#fff"/><rect x="131" y="101" width="1" height="12" fill="#000"/><rect x="129" y="108" width="5" height="1" fill="#000"/><rect x="139" y="101" width="1" height="13" fill="#000"/><rect x="137" y="107" width="5" height="1" fill="#000"/><rect x="147" y="103" width="1" height="10" fill="#000"/><rect x="145" y="106" width="5" height="5" fill="#000"/><rect x="155" y="106" width="1" height="6" fill="#000"/><rect x="153" y="111" width="5" height="1" fill="#000"/><rect x="163" y="103" width="1" height="18" fill="#000"/><rect x="161" y="111" width="5" height="1" fill="#000"/><rect x="171" y="105" width="1" height="17" fill="#000"/><rect x="169" y="110" width="5" height="5" fill="#000"/><rect x="179" y="111" width="1" height="15" fill="#000"/><rect x="177" y="111" width="5" height="3" fill="#000"/><rect x="178" y="112" width="3" height="1" fill="#fff"/><rect x="187" y="101" width="1" height="19" fill="#000"/><rect x="185" y="107" width="5" height="5" fill="#000"/><rect x="186" y="108" width="3" height="3" fill="#fff"/><rect x="195" y="101" width="1" height="21" fill="#000"/><rect x="193" y="107" width="5" height="15" fill="#000"/><rect x="203" y="120" width="1" height="3" fill="#000"/><rect x="201" y="121" width="5" height="1" fill="#000"/><rect x="211" y="115" width="1" height="14" fill="#000"/><rect x="209" y="116" width="5" height="5" fill="#000"/><rect x="210" y="117" width="3" height="3" fill="#fff"/><rect x="219" y="109" width="1" height="27" fill="#000"/><rect x="217" y="116" width="5" height="6" fill="#000"/><rect x="227" y="110" width="1" height="16" fill="#000"/><rect x="225" y="122" width="5" height="1" fill="#000"/><rect x="235" y="84" width="1" height="44" fill="#000"/><rect x="233" y="87" width="5" height="35" fill="#000"/><rect x="234" y="88" width="3" height="33" fill="#fff"/><rect x="243" y="65" width="1" height="23" fill="#000"/><rect x="241" y="67" width="5" height="20" fill="#000"/><rect x="242" y="68" width="3" height="18" fill="#fff"/><rect x="251" y="61" width="1" height="8" fill="#000"/><rect x="249" y="63" width="5" height="5" fill="#000"/><rect x="250" y="64" width="3" height="3" fill="#fff"/><rect x="259" y="51" width="1" height="16" fill="#000"/><rect x="257" y="55" width="5" height="7" fill="#000"/><rect x="258" y="56" width="3" height="5" fill="#fff"/><rect x="267" y="48" width="1" height="11" fill="#000"/><rect x="265" y="55" width="5" height="2" fill="#000"/><rect x="275" y="49" width="1" height="16" fill="#000"/><rect x="273" y="56" width="5" height="9" fill="#000"/><rect x="283" y="60" width="1" height="46" fill="#000"/><rect x="281" y="63" width="5" height="35" fill="#000"/><rect x="291" y="81" width="1" height="17" fill="#000"/><rect x="289" y="84" width="5" height="13" fill="#000"/><rect x="290" y="85" width="3" height="11" fill="#fff"/><rect x="299" y="81" width="1" height="15" fill="#000"/><rect x="297" y="84" width="5" height="7" fill="#000"/><rect x="307" y="87" width="1" height="16" fill="#000"/><rect x="305" y="91" width="5" height="1" fill="#000"/><rect x="315" y="85" width="1" height="16" fill="#000"/><rect x="313" y="86" width="5" height="5" fill="#000"/><rect x="314" y="87" width="3" height="3" fill="#fff"/><rect x="323" y="85" width="1" height="11" fill="#000"/><rect x="321" y="86" width="5" height="5" fill="#000"/><rect x="331" y="87" width="1" height="7" fill="#000"/><rect x="329" y="90" width="5" height="4" fill="#000"/><rect x="339" y="89" width="1" height="6" fill="#000"/><rect x="337" y="90" width="5" height="4" fill="#000"/><rect x="338" y="91" width="3" height="2" fill="#fff"/><rect x="347" y="90" width="1" height="7" fill="#000"/><rect x="345" y="90" width="5" height="4" fill="#000"/><rect x="355" y="93" width="1" height="17" fill="#000"/><rect x="353" y="93" width="5" height="16" fill="#000"/><rect x="363" y="107" width="1" height="13" fill="#000"/><rect x="361" y="109" width="5" height="9" fill="#000"/><rect x="371" y="102" width="1" height="17" fill="#000"/><rect x="369" y="103" width="5" height="15" fill="#000"/><rect x="370" y="104" width="3" height="13" fill="#fff"/><rect x="379" y="100" width="1" height="16" fill="#000"/><rect x="377" y="102" width="5" height="12" fill="#000"/><rect x="387" y="111" width="1" height="10" fill="#000"/><rect x="385" y="113" width="5" height="5" fill="#000"/><rect x="395" y="114" width="1" height="8" fill="#000"/><rect x="393" y="118" width="5" height="1" fill="#000"/><rect x="403" y="112" width="1" height="16" fill="#000"/><rect x="401" y="118" width="5" height="3" fill="#000"/><rect x="411" y="114" width="1" height="15" fill="#000"/><rect x="409" y="115" width="5" height="6" fill="#000"/><rect x="410" y="116" width="3" height="4" fill="#fff"/><rect x="419" y="102" width="1" height="18" fill="#000"/><rect x="417" y="115" width="5" height="1" fill="#000"/><rect x="427" y="110" width="1" height="23" fill="#000"/><rect x="425" y="114" width="5" height="4" fill="#000"/><rect x="435" y="115" width="1" height="12" fill="#000"/><rect x="433" y="117" width="5" height="5" fill="#000"/><rect x="443" y="115" width="1" height="10" fill="#000"/><rect x="441" y="115" width="5" height="6" fill="#000"/><rect x="442" y="116" width="3" height="4" fill="#fff"/><rect x="451" y="99" width="1" height="18" fill="#000"/><rect x="449" y="101" width="5" height="15" fill="#000"/><rect x="450" y="102" width="3" height="13" fill="#fff"/><rect x="459" y="100" width="1" height="23" fill="#000"/><rect x="457" y="101" width="5" height="21" fill="#000"/><rect x="467" y="89" width="1" height="36" fill="#000"/><rect x="465" y="96" width="5" height="26" fill="#000"/><rect x="466" y="97" width="3" height="24" fill="#fff"/><rect x="475" y="89" width="1" height="18" fill="#000"/><rect x="473" y="96" width="5" height="1" fill="#000"/><rect x="483" y="87" width="1" height="13" fill="#000"/><rect x="481" y="91" width="5" height="5" fill="#000"/><rect x="482" y="92" width="3" height="3" fill="#fff"/><rect x="491" y="85" width="1" height="8" fill="#000"/><rect x="489" y="88" width="5" height="3" fill="#000"/><rect x="490" y="89" width="3" height="1" fill="#fff"/><rect x="499" y="88" width="1" height="14" fill="#000"/><rect x="497" y="89" width="5" height="11" fill="#000"/><rect x="507" y="81" width="1" height="19" fill="#000"/><rect x="505" y="85" width="5" height="15" fill="#000"/><rect x="506" y="86" width="3" height="13" fill="#fff"/><rect x="515" y="77" width="1" height="31" fill="#000"/><rect x="513" y="85" width="5" height="22" fill="#000"/><rect x="523" y="84" width="1" height="28" fill="#000"/><rect x="521" y="100" width="5" height="6" fill="#000"/><rect x="522" y="101" width="3" height="4" fill="#fff"/><rect x="531" y="98" width="1" height="13" fill="#000"/><rect x="529" y="100" width="5" height="8" fill="#000"/><rect x="539" y="104" width="1" height="7" fill="#000"/><rect x="537" y="107" width="5" height="4" fill="#000"/><rect x="547" y="106" width="1" height="12" fill="#000"/><rect x="545" y="110" width="5" height="3" fill="#000"/><rect x="555" y="106" width="1" height="66" fill="#000"/><rect x="553" y="112" width="5" height="57" fill="#000"/><rect x="563" y="163" width="1" height="29" fill="#000"/><rect x="561" y="168" width="5" height="2" fill="#000"/><rect x="571" y="171" width="1" height="33" fill="#000"/><rect x="569" y="171" width="5" height="29" fill="#000"/><rect x="579" y="199" width="1" height="12" fill="#000"/><rect x="577" y="199" width="5" height="12" fill="#000"/><rect x="587" y="207" width="1" height="2" fill="#000"/><rect x="585" y="208" width="5" height="1" fill="#000"/><rect x="595" y="208" width="1" height="18" fill="#000"/><rect x="593" y="208" width="5" height="12" fill="#000"/><rect x="603" y="218" width="1" height="41" fill="#000"/><rect x="601" y="219" width="5" height="28" fill="#000"/><rect x="611" y="239" width="1" height="31" fill="#000"/><rect x="609" y="247" width="5" height="1" fill="#000"/><rect x="619" y="244" width="1" height="28" fill="#000"/><rect x="617" y="247" width="5" height="24" fill="#000"/><rect x="627" y="250" width="1" height="24" fill="#000"/><rect x="625" y="252" width="5" height="20" fill="#000"/><rect x="626" y="253" width="3" height="18" fill="#fff"/><rect x="635" y="250" width="1" height="5" fill="#000"/><rect x="633" y="253" width="5" height="1" fill="#000"/><rect x="643" y="236" width="1" height="22" fill="#000"/><rect x="641" y="239" width="5" height="14" fill="#000"/><rect x="642" y="240" width="3" height="12" fill="#fff"/><rect x="651" y="238" width="1" height="29" fill="#000"/><rect x="649" y="239" width="5" height="28" fill="#000"/><rect x="659" y="257" width="1" height="23" fill="#000"/><rect x="657" y="266" width="5" height="14" fill="#000"/><rect x="667" y="273" width="1" height="46" fill="#000"/><rect x="665" y="279" width="5" height="37" fill="#000"/><rect x="675" y="311" width="1" height="22" fill="#000"/><rect x="673" y="315" width="5" height="13" fill="#000"/><rect x="683" y="328" width="1" height="15" fill="#000"/><rect x="681" y="328" width="5" height="4" fill="#000"/><rect x="691" y="326" width="1" height="12" fill="#000"/><rect x="689" y="332" width="5" height="1" fill="#000"/><rect x="699" y="323" width="1" height="29" fill="#000"/><rect x="697" y="332" width="5" height="5" fill="#000"/><rect x="707" y="321" width="1" height="34" fill="#000"/><rect x="705" y="336" width="5" height="4" fill="#000"/><rect x="715" y="333" width="1" height="39" fill="#000"/><rect x="713" y="339" width="5" height="12" fill="#000"/><rect x="723" y="335" width="1" height="20" fill="#000"/><rect x="721" y="350" width="5" height="1" fill="#000"/><rect x="731" y="348" width="1" height="8" fill="#000"/><rect x="729" y="349" width="5" height="4" fill="#000"/><rect x="739" y="349" width="1" height="20" fill="#000"/><rect x="737" y="352" width="5" height="15" fill="#000"/><rect x="747" y="337" width="1" height="40" fill="#000"/><rect x="745" y="344" width="5" height="22" fill="#000"/><rect x="746" y="345" width="3" height="20" fill="#fff"/><rect x="755" y="344" width="1" height="66" fill="#000"/><rect x="753" y="344" width="5" height="66" fill="#000"/><rect x="763" y="384" width="1" height="33" fill="#000"/><rect x="761" y="402" width="5" height="8" fill="#000"/><rect x="762" y="403" width="3" height="6" fill="#fff"/><rect x="771" y="385" width="1" height="19" fill="#000"/><rect x="769" y="388" width="5" height="16" fill="#000"/><rect x="770" y="389" width="3" height="14" fill="#fff"/><rect x="779" y="387" width="1" height="12" fill="#000"/><rect x="777" y="389" width="5" height="1" fill="#000"/><rect x="787" y="373" width="1" height="17" fill="#000"/><rect x="785" y="380" width="5" height="10" fill="#000"/><rect x="786" y="381" width="3" height="8" fill="#fff"/><rect x="795" y="337" width="1" height="47" fill="#000"/><rect x="793" y="342" width="5" height="39" fill="#000"/><rect x="794" y="343" width="3" height="37" fill="#fff"/><rect x="803" y="329" width="1" height="24" fill="#000"/><rect x="801" y="342" width="5" height="3" fill="#000"/><rect x="811" y="335" width="1" height="23" fill="#000"/><rect x="809" y="340" width="5" height="4" fill="#000"/><rect x="810" y="341" width="3" height="2" fill="#fff"/><rect x="819" y="315" width="1" height="29" fill="#000"/><rect x="817" y="323" width="5" height="17" fill="#000"/><rect x="818" y="324" width="3" height="15" fill="#fff"/><rect x="827" y="329" width="1" height="9" fill="#000"/><rect x="825" y="332" width="5" height="6" fill="#000"/><rect x="835" y="323" width="1" height="24" fill="#000"/><rect x="833" y="336" width="5" height="8" fill="#000"/><rect x="843" y="331" width="1" height="22" fill="#000"/><rect x="841" y="335" width="5" height="9" fill="#000"/><rect x="842" y="336" width="3" height="7" fill="#fff"/><rect x="851" y="328" width="1" height="17" fill="#000"/><rect x="849" y="336" width="5" height="6" fill="#000"/><rect x="859" y="338" width="1" height="33" fill="#000"/><rect x="857" y="341" width="5" height="21" fill="#000"/><rect x="867" y="361" width="1" height="25" fill="#000"/><rect x="865" y="361" width="5" height="17" fill="#000"/><rect x="875" y="372" width="1" height="11" fill="#000"/><rect x="873" y="372" width="5" height="5" fill="#000"/><rect x="874" y="373" width="3" height="3" fill="#fff"/><rect x="883" y="356" width="1" height="18" fill="#000"/><rect x="881" y="356" width="5" height="17" fill="#000"/><rect x="882" y="357" width="3" height="15" fill="#fff"/><rect x="891" y="349" width="1" height="21" fill="#000"/><rect x="889" y="353" width="5" height="3" fill="#000"/><rect x="890" y="354" width="3" height="1" fill="#fff"/><rect x="899" y="344" width="1" height="32" fill="#000"/><rect x="897" y="353" width="5" height="3" fill="#000"/><rect x="907" y="338" width="1" height="32" fill="#000"/><rect x="905" y="356" width="5" height="12" fill="#000"/><rect x="915" y="365" width="1" height="23" fill="#000"/><rect x="913" y="367" width="5" height="7" fill="#000"/><rect x="923" y="370" width="1" height="10" fill="#000"/><rect x="921" y="374" width="5" height="1" fill="#000"/><rect x="931" y="369" width="1" height="12" fill="#000"/><rect x="929" y="373" width="5" height="8" fill="#000"/><rect x="939" y="366" width="1" height="24" fill="#000"/><rect x="937" y="366" width="5" height="14" fill="#000"/><rect x="938" y="367" width="3" height="12" fill="#fff"/><rect x="947" y="360" width="1" height="12" fill="#000"/><rect x="945" y="367" width="5" height="1" fill="#000"/><rect x="955" y="353" width="1" height="36" fill="#000"/><rect x="953" y="367" width="5" height="12" fill="#000"/><rect x="963" y="303" width="1" height="94" fill="#000"/><rect x="961" y="314" width="5" height="64" fill="#000"/><rect x="962" y="315" width="3" height="62" fill="#fff"/><rect x="971" y="303" width="1" height="17" fill="#000"/><rect x="969" y="314" width="5" height="1" fill="#000"/><rect x="979" y="306" width="1" height="27" fill="#000"/><rect x="977" y="314" width="5" height="19" fill="#000"/><rect x="987" y="332" width="1" height="32" fill="#000"/><rect x="985" y="332" width="5" height="20" fill="#000"/><rect x="995" y="333" width="1" height="99" fill="#000"/><rect x="993" y="351" width="5" height="75" fill="#000"/><rect x="1003" y="415" width="1" height="44" fill="#000"/><rect x="1001" y="425" width="5" height="34" fill="#000"/><rect x="1011" y="437" width="1" height="23" fill="#000"/><rect x="1009" y="439" width="5" height="20" fill="#000"/><rect x="1010" y="440" width="3" height="18" fill="#fff"/><rect x="1019" y="436" width="1" height="9" fill="#000"/><rect x="1017" y="441" width="5" height="1" fill="#000"/><rect x="1027" y="432" width="1" height="24" fill="#000"/><rect x="1025" y="437" width="5" height="4" fill="#000"/><rect x="1026" y="438" width="3" height="2" fill="#fff"/><rect x="1035" y="435" width="1" height="50" fill="#000"/><rect x="1033" y="437" width="5" height="30" fill="#000"/><rect x="1043" y="432" width="1" height="38" fill="#000"/><rect x="1041" y="454" width="5" height="12" fill="#000"/><rect x="1042" y="455" width="3" height="10" fill="#fff"/><rect x="1051" y="434" width="1" height="39" fill="#000"/><rect x="1049" y="450" width="5" height="4" fill="#000"/><rect x="1050" y="451" width="3" height="2" fill="#fff"/><rect x="1059" y="441" width="1" height="16" fill="#000"/><rect x="1057" y="450" width="5" height="7" fill="#000"/><rect x="1067" y="453" width="1" height="7" fill="#000"/><rect x="1065" y="453" width="5" height="7" fill="#000"/><rect x="1075" y="459" width="1" height="22" fill="#000"/><rect x="1073" y="459" width="5" height="19" fill="#000"/><rect x="1083" y="473" width="1" height="20" fill="#000"/><rect x="1081" y="478" width="5" height="1" fill="#000"/><rect x="1091" y="436" width="1" height="52" fill="#000"/><rect x="1089" y="439" width="5" height="39" fill="#000"/><rect x="1090" y="440" width="3" height="37" fill="#fff"/><rect x="1099" y="419" width="1" height="54" fill="#000"/><rect x="1097" y="439" width="5" height="17" fill="#000"/><rect x="1107" y="432" width="1" height="28" fill="#000"/><rect x="1105" y="456" width="5" height="1" fill="#000"/><rect x="1115" y="451" width="1" height="10" fill="#000"/><rect x="1113" y="454" width="5" height="3" fill="#000"/><rect x="1114" y="455" width="3" height="1" fill="#fff"/><rect x="1123" y="436" width="1" height="28" fill="#000"/><rect x="1121" y="439" width="5" height="15" fill="#000"/><rect x="1122" y="440" width="3" height="13" fill="#fff"/><rect x="1131" y="434" width="1" height="31" fill="#000"/><rect x="1129" y="439" width="5" height="26" fill="#000"/><rect x="1139" y="443" width="1" height="22" fill="#000"/><rect x="1137" y="453" width="5" height="11" fill="#000"/><rect x="1138" y="454" width="3" height="9" fill="#fff"/><rect x="1147" y="451" width="1" height="26" fill="#000"/><rect x="1145" y="453" width="5" height="14" fill="#000"/><rect x="1155" y="457" width="1" height="20" fill="#000"/><rect x="1153" y="464" width="5" height="3" fill="#000"/><rect x="1154" y="465" width="3" height="1" fill="#fff"/><rect x="1163" y="461" width="1" height="9" fill="#000"/><rect x="1161" y="463" width="5" height="7" fill="#000"/><rect x="1171" y="452" width="1" height="19" fill="#000"/><rect x="1169" y="456" width="5" height="14" fill="#000"/><rect x="1170" y="457" width="3" height="12" fill="#fff"/><rect x="1179" y="449" width="1" height="13" fill="#000"/><rect x="1177" y="449" width="5" height="8" fill="#000"/><rect x="1178" y="450" width="3" height="6" fill="#fff"/><rect x="1187" y="427" width="1" height="34" fill="#000"/><rect x="1185" y="444" width="5" height="7" fill="#000"/><rect x="1186" y="445" width="3" height="5" fill="#fff"/><rect x="1195" y="422" width="1" height="63" fill="#000"/><rect x="1193" y="444" width="5" height="21" fill="#000"/><rect x="1203" y="460" width="1" height="44" fill="#000"/><rect x="1201" y="465" width="5" height="37" fill="#000"/><rect x="1211" y="496" width="1" height="11" fill="#000"/><rect x="1209" y="501" width="5" height="5" fill="#000"/><rect x="1219" y="498" width="1" height="20" fill="#000"/><rect x="1217" y="506" width="5" height="3" fill="#000"/><rect x="1227" y="506" width="1" height="27" fill="#000"/><rect x="1225" y="508" width="5" height="14" fill="#000"/><rect x="1235" y="512" width="1" height="28" fill="#000"/><rect x="1233" y="522" width="5" height="3" fill="#000"/><rect x="1243" y="498" width="1" height="30" fill="#000"/><rect x="1241" y="524" width="5" height="1" fill="#000"/><rect x="1251" y="512" width="1" height="24" fill="#000"/><rect x="1249" y="524" width="5" height="3" fill="#000"/><rect x="1259" y="518" width="1" height="10" fill="#000"/><rect x="1257" y="520" width="5" height="6" fill="#000"/><rect x="1258" y="521" width="3" height="4" fill="#fff"/><rect x="1267" y="509" width="1" height="17" fill="#000"/><rect x="1265" y="513" width="5" height="7" fill="#000"/><rect x="1266" y="514" width="3" height="5" fill="#fff"/><rect x="1275" y="506" width="1" height="16" fill="#000"/><rect x="1273" y="514" width="5" height="1" fill="#000"/><rect x="1283" y="508" width="1" height="28" fill="#000"/><rect x="1281" y="513" width="5" height="14" fill="#000"/><rect x="1291" y="500" width="1" height="45" fill="#000"/><rect x="1289" y="500" width="5" height="26" fill="#000"/><rect x="1290" y="501" width="3" height="24" fill="#fff"/><rect x="1299" y="498" width="1" height="15" fill="#000"/><rect x="1297" y="501" width="5" height="1" fill="#000"/><rect x="1307" y="491" width="1" height="9" fill="#000"/><rect x="1305" y="494" width="5" height="3" fill="#000"/><rect x="1306" y="495" width="3" height="1" fill="#fff"/><rect x="1315" y="474" width="1" height="32" fill="#000"/><rect x="1313" y="494" width="5" height="11" fill="#000"/><rect x="1323" y="495" width="1" height="18" fill="#000"/><rect x="1321" y="504" width="5" height="9" fill="#000"/><rect x="1331" y="487" width="1" height="26" fill="#000"/><rect x="1329" y="492" width="5" height="21" fill="#000"/><rect x="1330" y="493" width="3" height="19" fill="#fff"/><rect x="1339" y="485" width="1" height="20" fill="#000"/><rect x="1337" y="487" width="5" height="5" fill="#000"/><rect x="1338" y="488" width="3" height="3" fill="#fff"/><rect x="1347" y="457" width="1" height="32" fill="#000"/><rect x="1345" y="463" width="5" height="25" fill="#000"/><rect x="1346" y="464" width="3" height="23" fill="#fff"/><rect x="1355" y="458" width="1" height="8" fill="#000"/><rect x="1353" y="459" width="5" height="6" fill="#000"/><rect x="1354" y="460" width="3" height="4" fill="#fff"/><rect x="1363" y="450" width="1" height="13" fill="#000"/><rect x="1361" y="454" width="5" height="5" fill="#000"/><rect x="1362" y="455" width="3" height="3" fill="#fff"/><rect x="1371" y="406" width="1" height="51" fill="#000"/><rect x="1369" y="410" width="5" height="45" fill="#000"/><rect x="1370" y="411" width="3" height="43" fill="#fff"/><rect x="1379" y="373" width="1" height="37" fill="#000"/><rect x="1377" y="381" width="5" height="29" fill="#000"/><rect x="1378" y="382" width="3" height="27" fill="#fff"/><rect x="1387" y="374" width="1" height="23" fill="#000"/><rect x="1385" y="381" width="5" height="7" fill="#000"/><rect x="1395" y="375" width="1" height="22" fill="#000"/><rect x="1393" y="380" width="5" height="7" fill="#000"/><rect x="1394" y="381" width="3" height="5" fill="#fff"/><rect x="1403" y="374" width="1" height="9" fill="#000"/><rect x="1401" y="380" width="5" height="1" fill="#000"/><rect x="1411" y="371" width="1" height="20" fill="#000"/><rect x="1409" y="378" width="5" height="11" fill="#000"/><rect x="1419" y="374" width="1" height="51" fill="#000"/><rect x="1417" y="388" width="5" height="37" fill="#000"/><rect x="1427" y="410" width="1" height="27" fill="#000"/><rect x="1425" y="413" width="5" height="11" fill="#000"/><rect x="1426" y="414" width="3" height="9" fill="#fff"/><rect x="1435" y="404" width="1" height="26" fill="#000"/><rect x="1433" y="412" width="5" height="14" fill="#000"/><rect x="1443" y="424" width="1" height="30" fill="#000"/><rect x="1441" y="426" width="5" height="27" fill="#000"/><rect x="1451" y="453" width="1" height="5" fill="#000"/></g><line x1="1287" y1="539" x2="1379.4" y2="387.3" stroke="#ff0000" stroke-width="3.9" stroke-linecap="butt"/><polygon points="1384.6,378.8 1382.8,391.8 1373.9,386.3" fill="#ff0000"/><line x1="1383.3" y1="380.1" x2="1452.1" y2="448.2" stroke="#ff0000" stroke-width="3.9" stroke-linecap="butt"/><polygon points="1458.5,454.5 1446.7,450.7 1454.6,442.8" fill="#ff0000"/><line x1="1393" y1="570.5" x2="1457.3" y2="600.9" stroke="#ff0000" stroke-width="3.3" stroke-linecap="butt"/><polygon points="1465,604.5 1453.4,604.5 1457.6,595.5" fill="#ff0000"/><line x1="1378.5" y1="804" x2="1462.0" y2="858.6" stroke="#ff0000" stroke-width="3.3" stroke-linecap="butt"/><polygon points="1469.5,863.5 1457.4,861.8 1463.1,853.1" fill="#ff0000"/></svg>

<div style="position:absolute;left:0;top:42px;width:209px;height:57px;">
 <div style="position:absolute;left:0;top:0;width:42px;height:24px;background:linear-gradient(#f25252,#dc2e2e);border-top:1px solid #c01818;box-sizing:border-box"></div>
 <div style="position:absolute;left:0;top:23px;width:39px;height:1px;background:#8a0000"></div>
 <div style="position:absolute;left:157px;top:0;width:52px;height:24px;background:linear-gradient(#f25252,#dc2e2e);border-top:1px solid #c01818;box-sizing:border-box"></div>
 <div style="position:absolute;left:161px;top:23px;width:44px;height:1px;background:#8a0000"></div>
 <div style="position:absolute;left:44px;top:0;width:111px;height:22px;background:#d8d8d8;border:1px solid #b0b0b0;box-sizing:border-box"></div>
 <div style="position:absolute;left:45px;top:1px;width:20px;height:20px;background:linear-gradient(#f4f4f4,#d4d4d4);border:1px solid #a8a8a8;box-sizing:border-box"></div>
 <div style="position:absolute;left:134px;top:1px;width:20px;height:20px;background:linear-gradient(#f4f4f4,#d4d4d4);border:1px solid #a8a8a8;box-sizing:border-box"></div>
 <div style="position:absolute;left:66px;top:1px;width:67px;height:20px;background:#fff"></div>
 <div style="position:absolute;left:0;top:24px;width:99px;height:33px;background:linear-gradient(#d82626,#b00000)"></div>
 <div style="position:absolute;left:101px;top:24px;width:108px;height:33px;background:linear-gradient(#d82626,#b00000)"></div>
 <div style="position:absolute;left:0;top:24px;width:39px;height:1px;background:#e86a6a"></div>
 <div style="position:absolute;left:161px;top:24px;width:44px;height:1px;background:#e86a6a"></div>
</div>
<svg width="220" height="110" style="position:absolute;left:0;top:0">
 <path d="M52 53 L58 53 L55 56 Z" fill="#4060c0"/>
 <path d="M141 56 L147 56 L144 53 Z" fill="#4060c0"/>
 <text x="2.6" y="57.8" font-size="12.6" fill="#fff" textLength="25.1" lengthAdjust="spacingAndGlyphs" style="font-family:"Liberation Sans", sans-serif">SELL</text>
 <text x="170" y="57.8" font-size="12.6" fill="#fff" textLength="23.6" lengthAdjust="spacingAndGlyphs" style="font-family:"Liberation Sans", sans-serif">BUY</text>
 <text x="106.6" y="57" font-size="12.6" fill="#000" textLength="23.4" lengthAdjust="spacingAndGlyphs" style="font-family:"Liberation Sans", sans-serif">1.00</text>
 <text x="10.5" y="93.9" font-size="12" font-weight="bold" fill="#fff" textLength="22.7" lengthAdjust="spacingAndGlyphs" style="font-family:"Liberation Sans", sans-serif">1.23</text>
 <text x="120.6" y="93.9" font-size="12" font-weight="bold" fill="#fff" textLength="23" lengthAdjust="spacingAndGlyphs" style="font-family:"Liberation Sans", sans-serif">1.23</text>
 <text x="38.5" y="93.6" font-size="32.5" fill="#fff" textLength="33" lengthAdjust="spacingAndGlyphs" style="font-family:"Liberation Sans", sans-serif">38</text>
 <text x="147.6" y="93.6" font-size="32.5" fill="#fff" textLength="35.6" lengthAdjust="spacingAndGlyphs" style="font-family:"Liberation Sans", sans-serif">44</text>
 <text x="76.6" y="77.4" font-size="11.5" font-weight="bold" textLength="7" lengthAdjust="spacingAndGlyphs" fill="#fff" style="font-family:"Liberation Sans", sans-serif">2</text>
 <text x="187.8" y="77.4" font-size="11.5" font-weight="bold" textLength="6.8" lengthAdjust="spacingAndGlyphs" fill="#fff" style="font-family:"Liberation Sans", sans-serif">4</text>
</svg>

<svg width="1693" height="20" style="position:absolute;left:0;top:0" shape-rendering="crispEdges"><rect x="0" y="0" width="1693" height="18" fill="#f0f0f0"/><rect x="0" y="18" width="1693" height="1" fill="#a0a0a0"/><rect x="0" y="19" width="1693" height="1" fill="#6e6e6e"/><rect x="7" y="0" width="1" height="15" fill="#a0a0a0"/><rect x="8" y="0" width="1" height="15" fill="#ffffff"/><rect x="17.5" y="0.5" width="10" height="11" fill="#fff" stroke="#909090"/><rect x="19" y="3" width="6" height="1" fill="#909090"/><rect x="19" y="5" width="6" height="1" fill="#909090"/><path d="M25.5 4.5h4v4h4v4h-4v4h-4v-4h-4v-4h4z" fill="#22c022" stroke="#109010" stroke-width="0.7" shape-rendering="auto"/><text x="36.4" y="8.8" font-size="12.6" fill="#000" textLength="64.6" lengthAdjust="spacingAndGlyphs" style="font-family:"Liberation Sans", sans-serif">New Order</text><path d="M114 6 L121 1 L129 8 L122 13 Z" fill="#e8b830" stroke="#a07010" stroke-width="1" shape-rendering="auto"/><path d="M115 8 L122 14 L129 9" fill="none" stroke="#c08820" stroke-width="1.2" shape-rendering="auto"/><rect x="145" y="0" width="8" height="7" fill="#4a90e0"/><rect x="147" y="1" width="4" height="2" fill="#d8e8ff"/><ellipse cx="149" cy="10" rx="7.5" ry="3.5" fill="#e8eef8" stroke="#8aa0c0" stroke-width="1" shape-rendering="auto"/><circle cx="177" cy="5" r="6.5" fill="none" stroke="#8ab0e0" stroke-width="1" shape-rendering="auto"/><circle cx="177" cy="5" r="4" fill="none" stroke="#5a90d8" stroke-width="1" shape-rendering="auto"/><circle cx="177" cy="5" r="1.6" fill="#2060c0" shape-rendering="auto"/><path d="M177 6 V13 M177 13 Q181 12 183 8" fill="none" stroke="#30a030" stroke-width="1.2" shape-rendering="auto"/><ellipse cx="203" cy="2" rx="7" ry="4" fill="#58a8e0" shape-rendering="auto"/><path d="M197 5 L209 5 L206 13 L200 13 Z" fill="#f0c830" shape-rendering="auto"/><circle cx="208" cy="10" r="4.2" fill="#e02020" shape-rendering="auto"/><rect x="206.5" y="8.5" width="3" height="3" fill="#fff"/><text x="217" y="8.8" font-size="12.6" fill="#000" textLength="71" lengthAdjust="spacingAndGlyphs" style="font-family:"Liberation Sans", sans-serif">AutoTrading</text><rect x="296" y="0" width="1" height="15" fill="#a0a0a0"/><rect x="297" y="0" width="1" height="15" fill="#ffffff"/><rect x="301" y="0" width="3" height="1" fill="#a8a8a8"/><rect x="301" y="2" width="3" height="1" fill="#a8a8a8"/><rect x="301" y="4" width="3" height="1" fill="#a8a8a8"/><rect x="301" y="6" width="3" height="1" fill="#a8a8a8"/><rect x="301" y="8" width="3" height="1" fill="#a8a8a8"/><rect x="301" y="10" width="3" height="1" fill="#a8a8a8"/><rect x="301" y="12" width="3" height="1" fill="#a8a8a8"/><rect x="301" y="14" width="3" height="1" fill="#a8a8a8"/><rect x="313" y="0" width="1" height="14" fill="#404040"/><rect x="311" y="12" width="14" height="1" fill="#404040"/><path d="M325 10.5 l2 2 l-2 2z" fill="#404040"/><rect x="318" y="1" width="1" height="8" fill="#20a020"/><rect x="319" y="2" width="2" height="1" fill="#20a020"/><rect x="316" y="7" width="2" height="1" fill="#20a020"/><rect x="334" y="0" width="1" height="15" fill="#a0a0a0"/><rect x="335" y="0" width="1" height="15" fill="#ffffff"/><rect x="335" y="0" width="24" height="16" fill="#e6e6e6"/><rect x="342" y="0" width="1" height="14" fill="#404040"/><rect x="340" y="12" width="14" height="1" fill="#404040"/><path d="M354 10.5 l2 2 l-2 2z" fill="#404040"/><rect x="346" y="0" width="4" height="7" fill="#30c030" stroke="#108010" stroke-width="1"/><rect x="348" y="7" width="1" height="2" fill="#108010"/><rect x="370" y="0" width="1" height="14" fill="#404040"/><rect x="368" y="12" width="14" height="1" fill="#404040"/><path d="M382 10.5 l2 2 l-2 2z" fill="#404040"/><path d="M369 9 Q375 1 381 6" fill="none" stroke="#20a020" stroke-width="1.2" shape-rendering="auto"/><rect x="391" y="0" width="1" height="15" fill="#a0a0a0"/><rect x="392" y="0" width="1" height="15" fill="#ffffff"/><circle cx="406" cy="4.5" r="5" fill="#d8ecff" stroke="#3070c8" stroke-width="1.3" shape-rendering="auto"/><path d="M409.5 8 L414 12.5" stroke="#d0a020" stroke-width="2.6" shape-rendering="auto"/><rect x="403" y="4" width="6" height="1.5" fill="#3070c8"/><rect x="405.25" y="1.5" width="1.5" height="6" fill="#3070c8"/><circle cx="434" cy="4.5" r="5" fill="#d8ecff" stroke="#3070c8" stroke-width="1.3" shape-rendering="auto"/><path d="M437.5 8 L442 12.5" stroke="#d0a020" stroke-width="2.6" shape-rendering="auto"/><rect x="431" y="4" width="6" height="1.5" fill="#3070c8"/><rect x="456" y="0" width="7" height="6" fill="#40a030"/><rect x="464" y="0" width="7" height="6" fill="#3060d0"/><rect x="456" y="7" width="7" height="7" fill="#3060d0"/><rect x="464" y="7" width="7" height="7" fill="#40a030"/><rect x="457" y="2" width="5" height="1" fill="#e0f0e0"/><rect x="465" y="2" width="5" height="1" fill="#e0e8ff"/><rect x="457" y="9" width="5" height="1" fill="#e0e8ff"/><rect x="465" y="9" width="5" height="1" fill="#e0f0e0"/><rect x="481" y="0" width="1" height="15" fill="#a0a0a0"/><rect x="482" y="0" width="1" height="15" fill="#ffffff"/><rect x="486" y="0" width="1" height="15" fill="#a0a0a0"/><rect x="487" y="0" width="1" height="15" fill="#ffffff"/><rect x="487" y="0" width="24" height="16" fill="#e6e6e6"/><rect x="494" y="0" width="1" height="14" fill="#404040"/><rect x="492" y="12" width="14" height="1" fill="#404040"/><path d="M506 10.5 l2 2 l-2 2z" fill="#404040"/><path d="M500 2 L504 5.5 L500 9 Z" fill="#20a020"/><rect x="514" y="0" width="1" height="15" fill="#a0a0a0"/><rect x="515" y="0" width="1" height="15" fill="#ffffff"/><rect x="515" y="0" width="24" height="16" fill="#e6e6e6"/><rect x="522" y="0" width="1" height="14" fill="#404040"/><rect x="520" y="12" width="14" height="1" fill="#404040"/><path d="M534 10.5 l2 2 l-2 2z" fill="#404040"/><rect x="528" y="0" width="1" height="10" fill="#2060c0"/><path d="M534 5 L530 5 M531 3 L529.5 5 L531 7" stroke="#e04000" stroke-width="1" fill="none"/><rect x="543" y="0" width="1" height="15" fill="#a0a0a0"/><rect x="544" y="0" width="1" height="15" fill="#ffffff"/><rect x="553.5" y="0.5" width="9" height="11" fill="#fff" stroke="#909090"/><path d="M561 6h3v3h3v3h-3v3h-3v-3h-3v-3h3z" fill="#22c022" stroke="#108010" stroke-width="0.6" shape-rendering="auto"/><path d="M574 5 L580 5 L577 8 Z" fill="#000"/><circle cx="599" cy="6" r="7" fill="#2f6fd0" shape-rendering="auto"/><circle cx="599" cy="6" r="5" fill="#eef4ff" shape-rendering="auto"/><path d="M599 2.5 V6.5 H602" stroke="#404040" stroke-width="1" fill="none"/><path d="M613 5 L619 5 L616 8 Z" fill="#000"/><rect x="630.5" y="0.5" width="15" height="12" fill="#fff" stroke="#4a7cc8"/><rect x="631" y="1" width="14" height="2" fill="#6a9ae0"/><path d="M632 6 L636 5 L639 6 L644 4" stroke="#c02020" fill="none" shape-rendering="auto"/><path d="M632 10 L635 9 L638 10 L644 8" stroke="#20a020" fill="none" shape-rendering="auto"/><path d="M652 5 L658 5 L655 8 Z" fill="#000"/><rect x="664" y="0" width="1" height="15" fill="#a0a0a0"/><rect x="665" y="0" width="1" height="15" fill="#ffffff"/><rect x="669" y="0" width="3" height="1" fill="#a8a8a8"/><rect x="669" y="2" width="3" height="1" fill="#a8a8a8"/><rect x="669" y="4" width="3" height="1" fill="#a8a8a8"/><rect x="669" y="6" width="3" height="1" fill="#a8a8a8"/><rect x="669" y="8" width="3" height="1" fill="#a8a8a8"/><rect x="669" y="10" width="3" height="1" fill="#a8a8a8"/><rect x="669" y="12" width="3" height="1" fill="#a8a8a8"/><rect x="669" y="14" width="3" height="1" fill="#a8a8a8"/><rect x="674" y="0" width="1" height="15" fill="#a0a0a0"/><rect x="675" y="0" width="1" height="15" fill="#ffffff"/><rect x="675" y="0" width="24" height="16" fill="#e6e6e6"/><path d="M683 0 L683 11 L685.5 8.5 L688 13 L690 12 L687.5 7.5 L691 7.5 Z" fill="#404040"/><rect x="714" y="0" width="1" height="13" fill="#404040"/><rect x="707" y="6" width="15" height="1" fill="#404040"/><rect x="714" y="6" width="1" height="1" fill="#f0f0f0"/><rect x="731" y="0" width="1" height="15" fill="#a0a0a0"/><rect x="732" y="0" width="1" height="15" fill="#ffffff"/><rect x="748" y="0" width="1" height="13" fill="#404040"/><rect x="771" y="6" width="12" height="1" fill="#404040"/><path d="M799.5 13 L811.5 1" stroke="#404040" stroke-width="1" shape-rendering="auto"/><path d="M826 10 L837 1 M828 12 L839 3" stroke="#404040" stroke-width="1" shape-rendering="auto"/><path d="M827 8 L829 11 M830 6 L832 9 M833 4 L835 7" stroke="#404040" stroke-width="0.8" shape-rendering="auto"/><text x="836" y="15" font-size="6.5" fill="#404040" style="font-family:"Liberation Sans", sans-serif">E</text><path d="M854 2.5 H866" stroke="#404040" stroke-dasharray="1 1" stroke-width="1"/><path d="M854 6.5 H866" stroke="#404040" stroke-dasharray="1 1" stroke-width="1"/><path d="M854 10.5 H866" stroke="#404040" stroke-dasharray="1 1" stroke-width="1"/><text x="863" y="15.5" font-size="6.5" fill="#404040" style="font-family:"Liberation Sans", sans-serif">F</text><text x="884.5" y="10.5" font-size="12" fill="#404040" textLength="9" lengthAdjust="spacingAndGlyphs" style="font-family:"Liberation Sans", sans-serif">A</text><rect x="911.5" y="0.5" width="11" height="12" fill="none" stroke="#404040" stroke-dasharray="1 1"/><text x="913.5" y="10.5" font-size="11.5" fill="#404040" textLength="7.5" lengthAdjust="spacingAndGlyphs" style="font-family:"Liberation Sans", sans-serif">T</text><path d="M941 1 L944 3.5 L941 6 L938 3.5 Z M949 6 L952 8.5 L949 11 L946 8.5 Z" fill="#404040"/><path d="M939.5 6.5 L941.5 9 L945.5 4" stroke="#404040" fill="none" stroke-width="1.2" shape-rendering="auto"/><path d="M958 5 L964 5 L961 8 Z" fill="#000"/><rect x="970" y="0" width="1" height="15" fill="#a0a0a0"/><rect x="971" y="0" width="1" height="15" fill="#ffffff"/><rect x="975" y="0" width="3" height="1" fill="#a8a8a8"/><rect x="975" y="2" width="3" height="1" fill="#a8a8a8"/><rect x="975" y="4" width="3" height="1" fill="#a8a8a8"/><rect x="975" y="6" width="3" height="1" fill="#a8a8a8"/><rect x="975" y="8" width="3" height="1" fill="#a8a8a8"/><rect x="975" y="10" width="3" height="1" fill="#a8a8a8"/><rect x="975" y="12" width="3" height="1" fill="#a8a8a8"/><rect x="975" y="14" width="3" height="1" fill="#a8a8a8"/><text x="985" y="9.9" font-size="9.6" fill="#303030" textLength="13" lengthAdjust="spacingAndGlyphs" style="font-family:"Liberation Sans", sans-serif">M1</text><text x="1013" y="9.9" font-size="9.6" fill="#303030" textLength="13" lengthAdjust="spacingAndGlyphs" style="font-family:"Liberation Sans", sans-serif">M5</text><text x="1039.7" y="9.9" font-size="9.6" fill="#303030" textLength="17.3" lengthAdjust="spacingAndGlyphs" style="font-family:"Liberation Sans", sans-serif">M15</text><text x="1067.5" y="9.9" font-size="9.6" fill="#303030" textLength="17.5" lengthAdjust="spacingAndGlyphs" style="font-family:"Liberation Sans", sans-serif">M30</text><text x="1098.5" y="9.9" font-size="9.6" fill="#303030" textLength="12" lengthAdjust="spacingAndGlyphs" style="font-family:"Liberation Sans", sans-serif">H1</text><rect x="1119" y="0" width="1" height="15" fill="#a0a0a0"/><rect x="1120" y="0" width="1" height="15" fill="#ffffff"/><rect x="1121" y="0" width="24" height="16" fill="#e6e6e6"/><text x="1125.5" y="9.9" font-size="9.6" fill="#303030" textLength="12.5" lengthAdjust="spacingAndGlyphs" style="font-family:"Liberation Sans", sans-serif">H4</text><text x="1154.5" y="9.9" font-size="9.6" fill="#303030" textLength="12" lengthAdjust="spacingAndGlyphs" style="font-family:"Liberation Sans", sans-serif">D1</text><text x="1182" y="9.9" font-size="9.6" fill="#303030" textLength="14" lengthAdjust="spacingAndGlyphs" style="font-family:"Liberation Sans", sans-serif">W1</text><text x="1208.5" y="9.9" font-size="9.6" fill="#303030" textLength="15" lengthAdjust="spacingAndGlyphs" style="font-family:"Liberation Sans", sans-serif">MN</text><rect x="1231" y="0" width="1" height="15" fill="#a0a0a0"/><rect x="1232" y="0" width="1" height="15" fill="#ffffff"/><circle cx="1648.5" cy="3" r="3.2" fill="none" stroke="#2f6fd0" stroke-width="1.4" shape-rendering="auto"/><path d="M1646 5.5 L1641.5 10.5" stroke="#2f6fd0" stroke-width="2" shape-rendering="auto"/><ellipse cx="1671" cy="8" rx="6" ry="4.5" fill="#e4e4e4" stroke="#b8b8b8" shape-rendering="auto"/><path d="M1668 12 L1667 14.5 L1671 12" fill="#d0d0d0" shape-rendering="auto"/><circle cx="1679.4" cy="3" r="8" fill="#e03a1a" shape-rendering="auto"/><text x="1676.6" y="7.6" font-size="11" font-weight="bold" fill="#fff" style="font-family:"Liberation Serif", serif">1</text></svg>
<div style="position:absolute;left:1692px;top:20px;width:1px;height:921px;background:#dcdcdc"></div>
</body></html>
